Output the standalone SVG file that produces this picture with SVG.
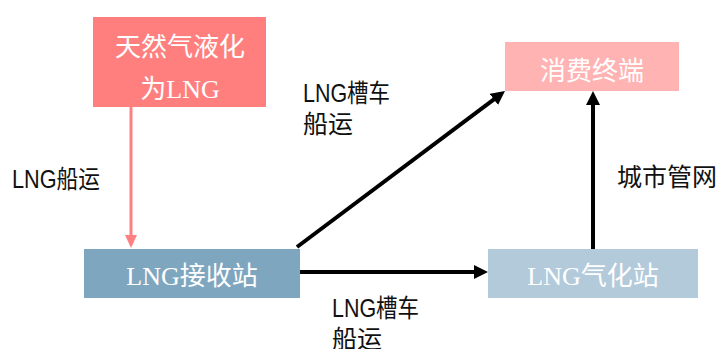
<svg xmlns="http://www.w3.org/2000/svg" width="723" height="349" viewBox="0 0 723 349">
<style>
.nt{font-family:"Liberation Serif","Noto Sans CJK SC",serif;font-size:26px;fill:#ffffff;text-anchor:middle}
.lb{font-family:"Liberation Sans","Noto Sans CJK SC",sans-serif;font-size:25px;fill:#111111}
.blk{stroke:#000000;stroke-width:4;fill:none}
.pnk{stroke:#FF8080;stroke-width:3;fill:none}
</style>
<defs>
<marker id="ab" markerUnits="userSpaceOnUse" markerWidth="15" markerHeight="14" refX="1" refY="7" orient="auto">
<path d="M0,0 L14,7 L0,14 z" fill="#000000"/>
</marker>
<marker id="ap" markerUnits="userSpaceOnUse" markerWidth="13" markerHeight="12" refX="1" refY="6" orient="auto">
<path d="M0,0 L13,6 L0,12 z" fill="#FF8080"/>
</marker>
</defs>
<rect width="723" height="349" fill="#ffffff"/>
<g id="connectors">
<line class="pnk" x1="131" y1="107" x2="131" y2="236" marker-end="url(#ap)"/>
<line class="blk" x1="297" y1="247" x2="494.6" y2="98.8" marker-end="url(#ab)"/>
<line class="blk" x1="300" y1="272" x2="475" y2="272" marker-end="url(#ab)"/>
<line class="blk" x1="593" y1="249" x2="593" y2="104" marker-end="url(#ab)"/>
</g>
<g id="node-liquefy">
<rect x="93" y="17" width="173" height="90" fill="#FF7F7F"/>
<text class="nt" x="180" y="56">天然气液化</text>
<text class="nt" x="180" y="98">为LNG</text>
</g>
<g id="node-receive">
<rect x="84" y="249" width="216" height="49" fill="#7FA6BF"/>
<text class="nt" x="192" y="285">LNG接收站</text>
</g>
<g id="node-consumer">
<rect x="505" y="42" width="174" height="49" fill="#FFB3B3"/>
<text class="nt" x="592" y="80">消费终端</text>
</g>
<g id="node-gasify">
<rect x="488" y="249" width="210" height="49" fill="#B3CADB"/>
<text class="nt" x="593" y="285">LNG气化站</text>
</g>
<g id="labels">
<text class="lb" x="12" y="188" textLength="88" lengthAdjust="spacingAndGlyphs">LNG船运</text>
<text class="lb" x="303" y="102" textLength="87" lengthAdjust="spacingAndGlyphs">LNG槽车</text>
<text class="lb" x="303" y="133">船运</text>
<text class="lb" x="332" y="317" textLength="87" lengthAdjust="spacingAndGlyphs">LNG槽车</text>
<text class="lb" x="332" y="348">船运</text>
<text class="lb" x="617" y="186">城市管网</text>
</g>
</svg>
